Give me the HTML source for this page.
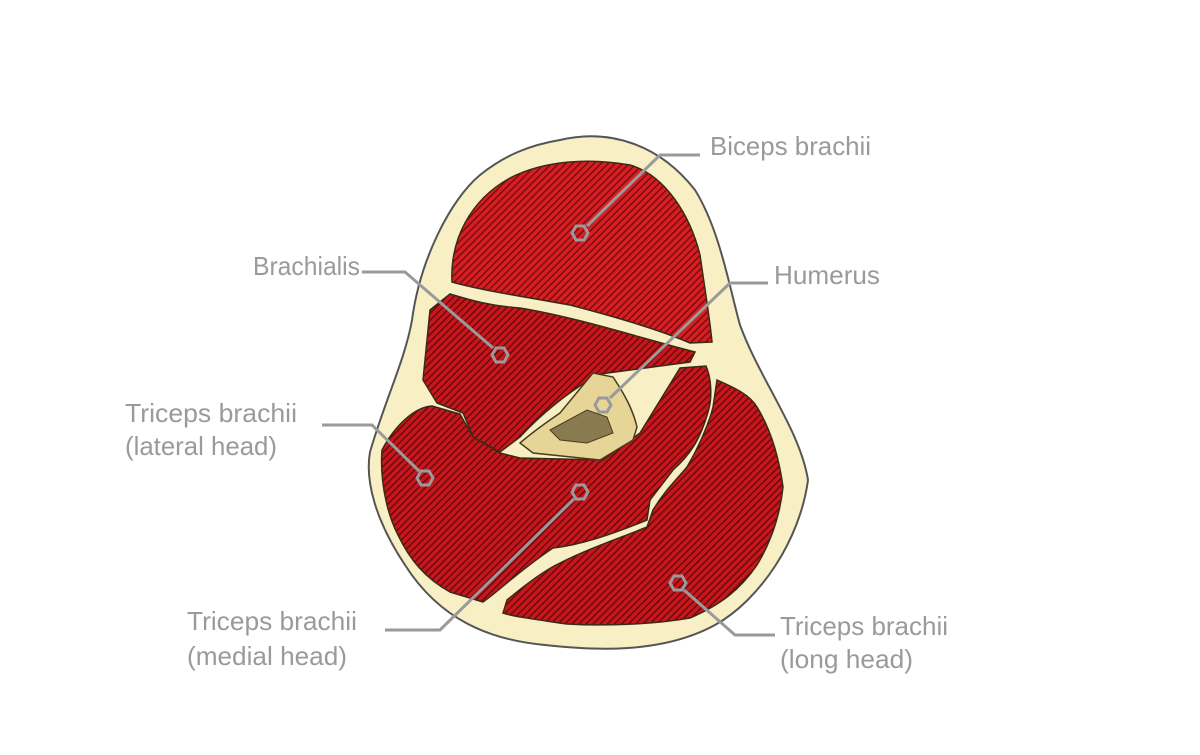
<!DOCTYPE html>
<html><head><meta charset="utf-8"><style>
html,body{margin:0;padding:0;background:#fff;}
svg{display:block;}
text{font-family:"Liberation Sans Narrow","Liberation Sans",sans-serif;fill:#9a9a9a;font-size:26px;}
</style></head><body>
<svg width="1200" height="755" viewBox="0 0 1200 755" xmlns="http://www.w3.org/2000/svg">
<defs>
<pattern id="h" width="5" height="5" patternUnits="userSpaceOnUse" patternTransform="rotate(45)">
<rect width="5" height="5" fill="#c8161c"/>
<rect width="1.3" height="5" fill="#5a0a0c"/>
</pattern>
<pattern id="h2" width="5" height="5" patternUnits="userSpaceOnUse" patternTransform="rotate(45)">
<rect width="5" height="5" fill="#d81e22"/>
<rect width="1.3" height="5" fill="#6a0c0e"/>
</pattern>
</defs>
<path d="M560,140 C610,128 660,145 695,190 C720,230 730,290 740,325 C760,380 800,430 808,480 C800,540 760,600 715,625 C660,655 590,650 545,645 C490,640 440,620 405,565 C375,520 365,480 370,452 C385,400 405,360 412,320 C420,260 450,200 480,175 C505,155 530,145 560,140 Z" fill="#f8f0c4" stroke="#555" stroke-width="2"/>
<path d="M452,282 C450,240 470,200 510,178 C545,160 590,158 630,165 C665,175 690,215 700,255 C705,290 710,320 712,342 L690,343 C660,330 620,318 570,305 C520,296 480,290 452,282 Z" fill="url(#h2)" stroke="#3a2a1a" stroke-width="1.5"/>
<path d="M430,310 L450,294 C470,300 490,306 520,308 C580,318 640,338 695,352 L690,362 L600,374 C570,390 540,415 520,437 L500,452 L473,437 L463,413 L437,403 L423,380 Z" fill="url(#h)" stroke="#3a2a1a" stroke-width="1.5"/>
<path d="M382,450 C395,425 415,407 432,406 L460,414 L473,437 L500,453 L520,458 L603,460 L640,433 L680,368 L706,366 C712,380 712,400 708,412 C700,440 690,455 673,470 L650,500 L647,520 C610,535 580,545 553,548 C520,570 500,590 483,602 L450,592 C425,578 410,560 398,535 C385,510 380,475 382,450 Z" fill="url(#h)" stroke="#3a2a1a" stroke-width="1.5"/>
<path d="M717,380 C735,388 750,395 757,407 C768,425 778,450 783,487 C780,515 772,540 757,565 C740,590 720,605 690,618 C650,625 600,626 567,624 C540,620 515,617 503,613 L507,600 C525,585 545,570 560,563 C590,548 620,538 647,527 L653,510 C665,490 678,478 687,467 C700,445 710,420 713,407 Z" fill="url(#h)" stroke="#3a2a1a" stroke-width="1.5"/>
<path d="M520,443 C535,430 550,420 560,413 L593,373 L613,377 C625,395 633,410 637,427 L633,440 L600,460 L533,453 Z" fill="#e6d596" stroke="#4a3a20" stroke-width="1.5"/>
<path d="M550,430 L587,410 L607,417 L613,433 L587,443 L560,440 Z" fill="#8a7a50" stroke="#4a3a20" stroke-width="1"/>
<g fill="none" stroke="#9a9a9a" stroke-width="3">
<polyline points="700,155 660,155 587,226"/>
<polyline points="362,272 405,272 493,348"/>
<polyline points="768,283 730,283 610,398"/>
<polyline points="322,425 372,425 419,471"/>
<polyline points="385,630 440,630 574,499"/>
<polyline points="775,635 735,635 684,590"/>
<polygon points="572,233 576,226 584,226 588,233 584,240 576,240"/>
<polygon points="492,355 496,348 504,348 508,355 504,362 496,362"/>
<polygon points="595,405 599,398 607,398 611,405 607,412 599,412"/>
<polygon points="417,478 421,471 429,471 433,478 429,485 421,485"/>
<polygon points="572,492 576,485 584,485 588,492 584,499 576,499"/>
<polygon points="670,583 674,576 682,576 686,583 682,590 674,590"/>
</g>
<text x="710" y="155" textLength="161" lengthAdjust="spacingAndGlyphs">Biceps brachii</text>
<text x="253" y="275" textLength="107" lengthAdjust="spacingAndGlyphs">Brachialis</text>
<text x="774" y="284" textLength="106" lengthAdjust="spacingAndGlyphs">Humerus</text>
<text x="125" y="422" textLength="172" lengthAdjust="spacingAndGlyphs">Triceps brachii</text>
<text x="125" y="455" textLength="152" lengthAdjust="spacingAndGlyphs">(lateral head)</text>
<text x="187" y="630" textLength="170" lengthAdjust="spacingAndGlyphs">Triceps brachii</text>
<text x="187" y="665" textLength="160" lengthAdjust="spacingAndGlyphs">(medial head)</text>
<text x="780" y="635" textLength="168" lengthAdjust="spacingAndGlyphs">Triceps brachii</text>
<text x="780" y="668" textLength="133" lengthAdjust="spacingAndGlyphs">(long head)</text>
</svg>
</body></html>
